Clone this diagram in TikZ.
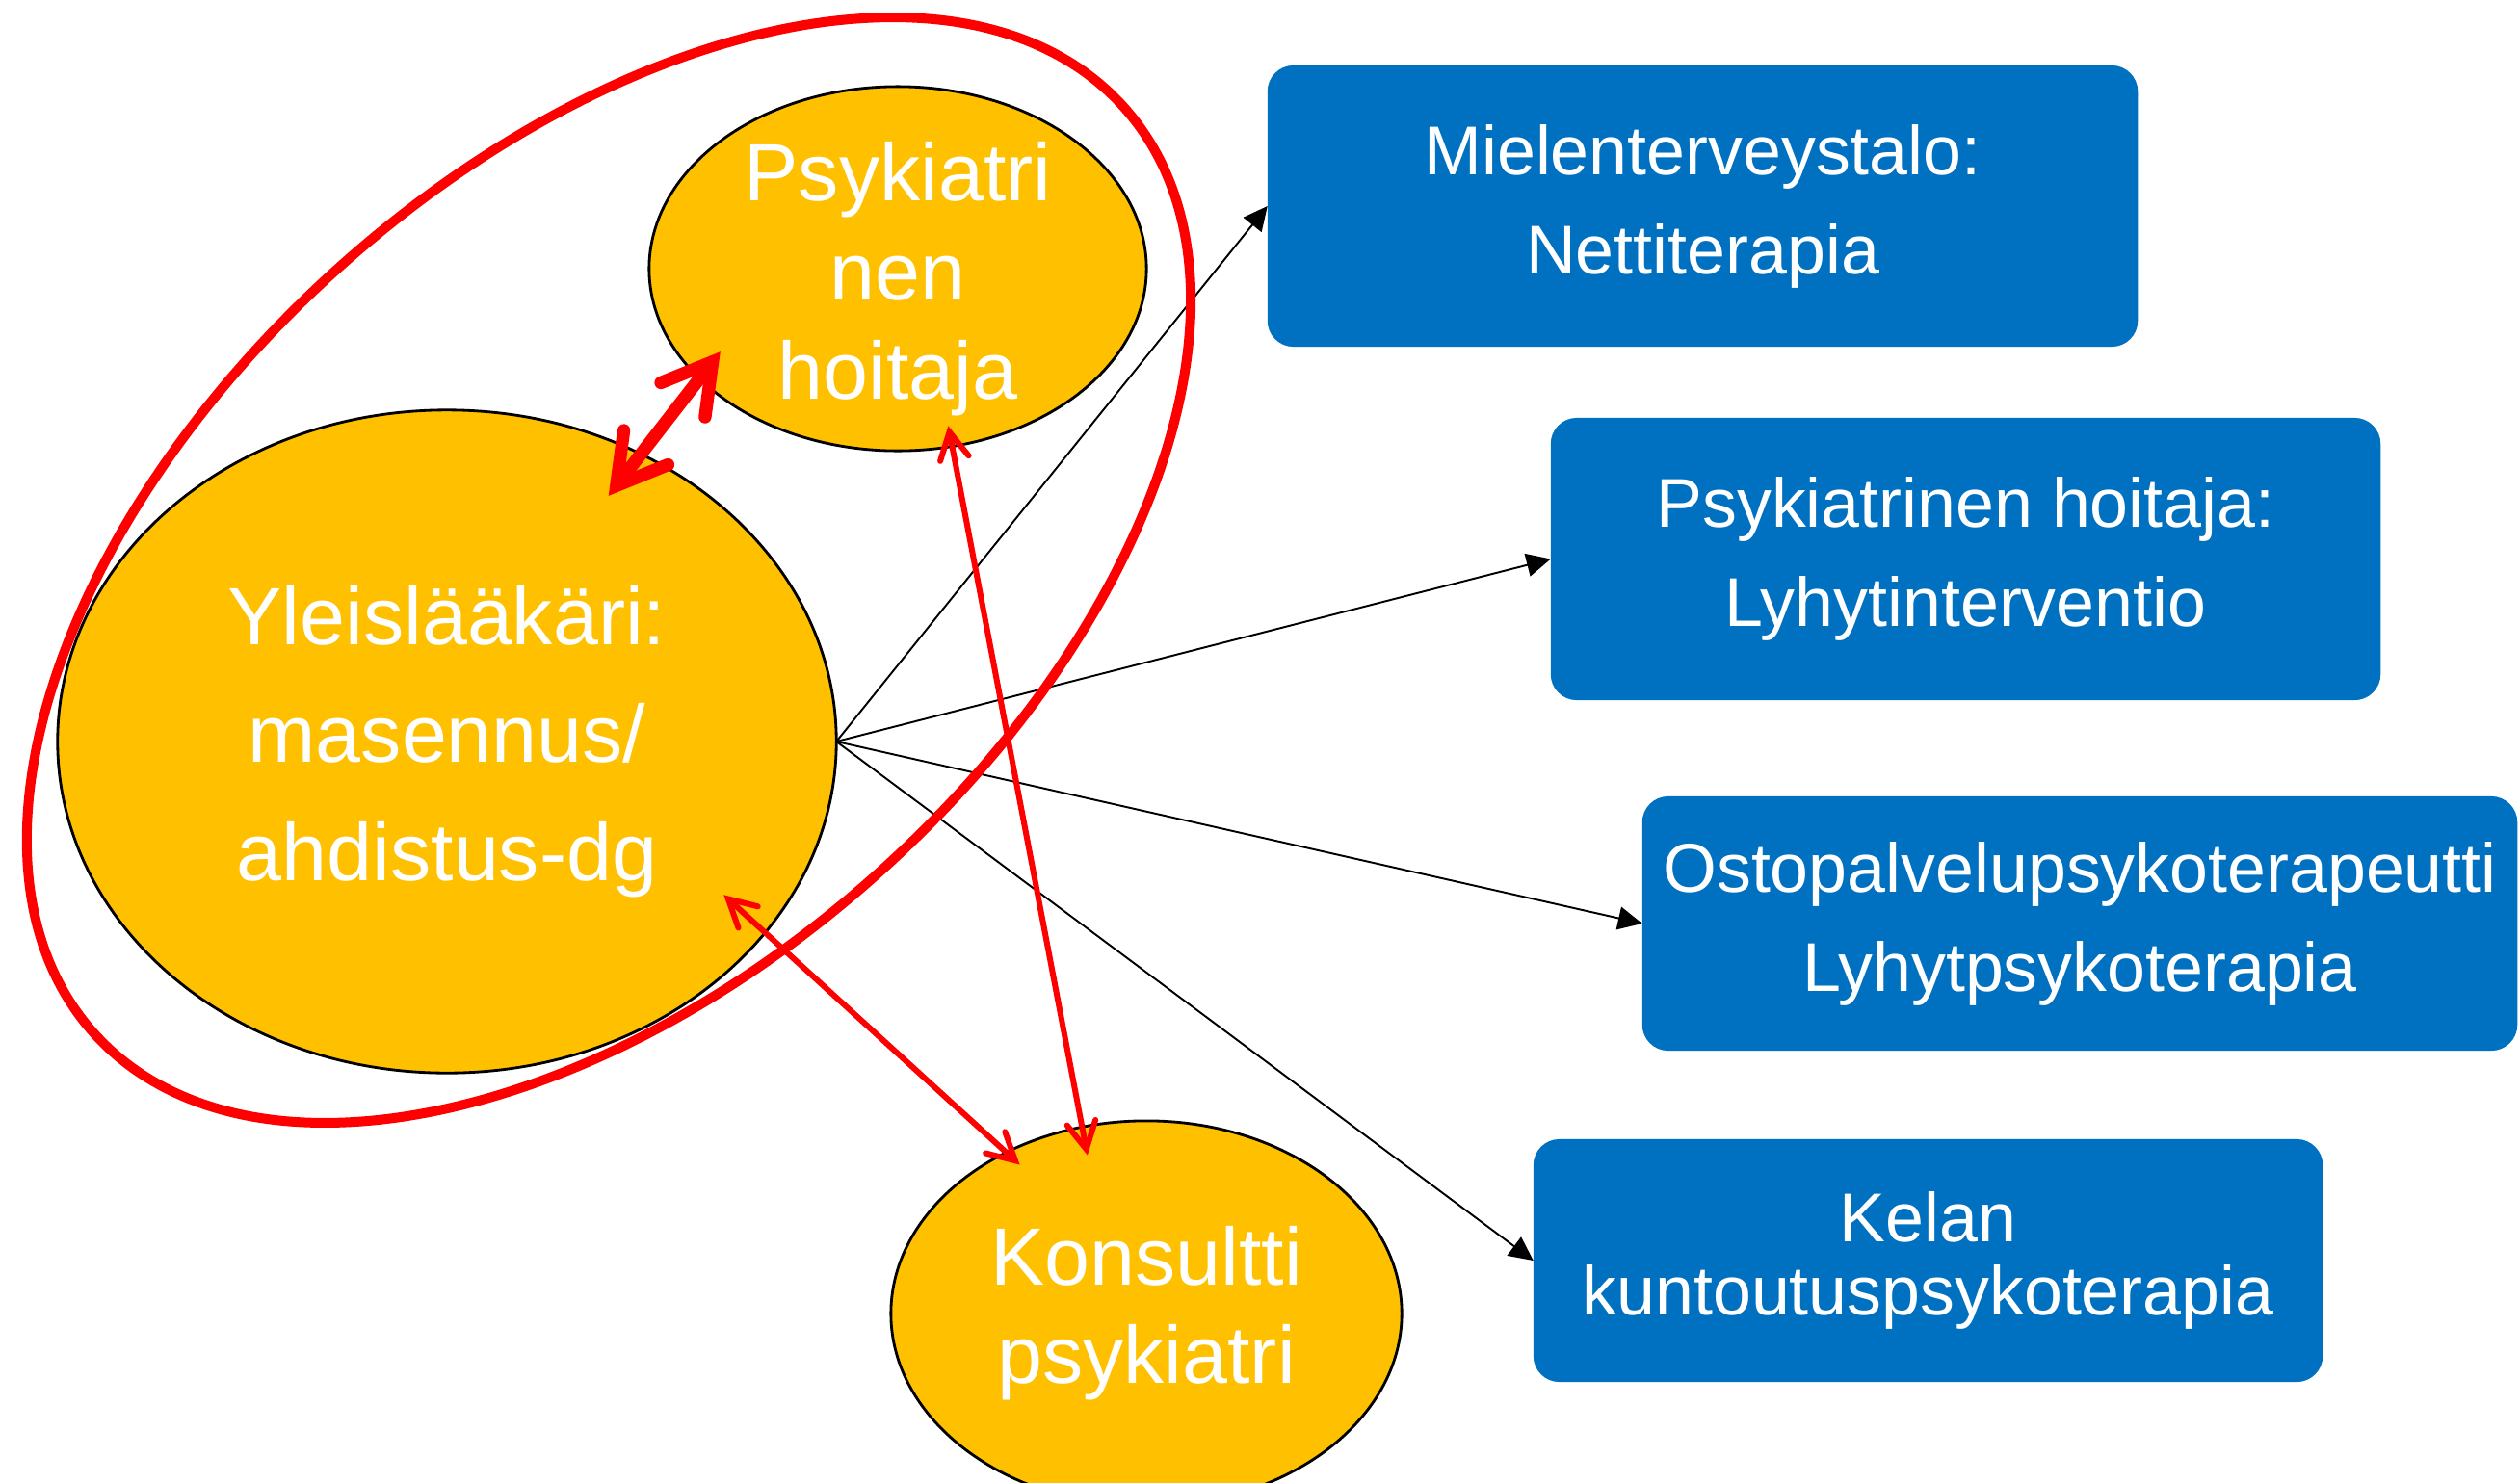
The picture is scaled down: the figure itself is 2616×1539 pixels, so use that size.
\documentclass[tikz,border=0pt]{standalone}
\usepackage{fontspec}
\setmainfont{Liberation Sans}
\usetikzlibrary{arrows.meta, shapes.geometric}
\definecolor{gold}{HTML}{FFC000}
\definecolor{officeblue}{HTML}{0070C0}
\begin{document}
\begin{tikzpicture}[x = 0.01cm, y = -0.01cm,
        oval/.style = {ellipse, draw = black, line width = 0.8pt, fill = gold, text = white, inner sep = 0pt, outer sep = 0pt, align = center},
        service/.style = {rectangle, rounded corners = 0.27cm, fill = officeblue, text = white, inner sep = 1mm, outer sep = 0pt, align = center, font = \fontsize{20.4}{29.3}\selectfont},
        referral/.style = {-{Triangle[length = 0.25cm, width = 0.24cm]}, line width = 0.55pt},
        consult/.style = {{Straight Barb[length = 0.28cm, width = 0.3cm, line cap = round, line join = miter]}-{Straight Barb[length = 0.28cm, width = 0.3cm, line cap = round, line join = miter]}, red, line width = 1.7pt},
        mainconsult/.style = {{Straight Barb[length = 0.5cm, width = 0.58cm, line cap = round, line join = miter]}-{Straight Barb[length = 0.5cm, width = 0.58cm, line cap = round, line join = miter]}, red, line width = 3.8pt},
        teamring/.style = {red, line width = 2.85pt}]
            \path [use as bounding box] (0, 0) rectangle (2616, 1539);
            \clip (0, 0) rectangle (2616, 1539);
            \node [oval, minimum width = 8.08cm, minimum height = 6.88cm, font = \fontsize{24}{34.9}\selectfont] (gp) at (464, 770) {Yleislääkäri:\\masennus/\\ahdistus-dg};
            \node [oval, minimum width = 5.16cm, minimum height = 3.78cm, inner ysep = -3mm, font = \fontsize{24}{29.3}\selectfont] (nurse) at (932, 279) {\rule{0pt}{0.82cm}Psykiatri\\nen\\hoitaja};
            \node [oval, minimum width = 5.3cm, minimum height = 4cm, font = \fontsize{24}{29}\selectfont] (cons) at (1190, 1364) {Konsultti\\psykiatri};
            \node [service, minimum width = 9.03cm, minimum height = 2.92cm] (net) at (1767.5, 214) {Mielenterveystalo:\\Nettiterapia};
            \node [service, minimum width = 8.61cm, minimum height = 2.93cm] (short) at (2040.5, 580.5) {Psykiatrinen hoitaja:\\Lyhytinterventio};
            \node [service, minimum width = 9.08cm, minimum height = 2.64cm] (therapy) at (2159, 959) {Ostopalvelupsykoterapeutti\\Lyhytpsykoterapia};
            \node [service, minimum width = 8.19cm, minimum height = 2.52cm, font = \fontsize{20.4}{21.6}\selectfont] (kela) at (2001.5, 1309) {Kelan\\kuntoutuspsykoterapia};
            \draw [referral] (gp.east) -- (net.west);
            \draw [referral] (gp.east) -- (short.west);
            \draw [referral] (gp.east) -- (therapy.west);
            \draw [referral] (gp.east) -- (kela.west);
            \draw [teamring] (632, 592) circle [x radius = 719, y radius = 421, rotate = 42];
            \draw [mainconsult, shorten <= -0.548cm, shorten >= -0.353cm] (gp.56.2) -- (nurse.209.6);
            \draw [consult, shorten <= -0.216cm, shorten >= -0.297cm] (nurse.287.5) -- (cons.109.5);
            \draw [consult, shorten <= -0.582cm, shorten >= -0.19cm] (gp.329.2) -- (cons.131.2);
        \end{tikzpicture}
\end{document}
